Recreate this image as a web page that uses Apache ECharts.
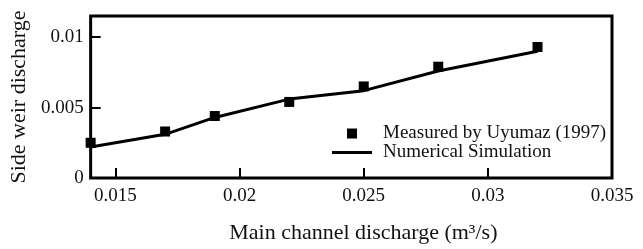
<!DOCTYPE html>
<html>
<head>
<meta charset="utf-8">
<script src="https://cdn.jsdelivr.net/npm/echarts@6/dist/echarts.min.js"></script>
<style>
    html, body { margin: 0; padding: 0; background: #fff; }
    #chart { width: 643px; height: 249px; }
</style>
</head>
<body>
<div id="chart"></div>
<script>
    // 实测数据 (Uyumaz 1997)
    var measuredX = [0.014, 0.017, 0.019, 0.022, 0.025, 0.028, 0.032];
    var measuredY = [0.0025, 0.0033, 0.0044, 0.0054, 0.0065, 0.0079, 0.0093];

    // 数值模拟
    var simX = [0.014, 0.017, 0.019, 0.022, 0.025, 0.028, 0.032];
    var simY = [0.0022, 0.0031, 0.0043, 0.0056, 0.0062, 0.0076, 0.0090];

    // 刻度
    var xTicks = [0.015, 0.02, 0.025, 0.03, 0.035];
    var yTicks = [0, 0.005, 0.01];

    function pairs(xs, ys) {
        var out = [];
        for (var i = 0; i < xs.length; i++) {
            out.push([xs[i], ys[i]]);
        }
        return out;
    }

    var font = '"Liberation Serif", "Times New Roman", serif';
    var myChart = echarts.init(document.getElementById('chart'));

    var option = {
        animation: false,
        textStyle: { fontFamily: font, color: '#111' },
        grid: {
            left: 88,
            right: 31,
            top: 16,
            bottom: 66,
            show: true,
            borderColor: '#000',
            borderWidth: 3,
            backgroundColor: 'transparent'
        },
        legend: {
            orient: 'vertical',
            left: 332,
            top: 124,
            padding: 0,
            itemWidth: 40,
            itemHeight: 10,
            itemGap: 0,
            textStyle: {
                fontFamily: font,
                fontSize: 19,
                color: '#111',
                lineHeight: 19,
                padding: [0, 0, 0, 6]
            },
            data: [
                { name: 'Measured by Uyumaz (1997)', icon: 'path://M0,0h10v10h-10z', itemStyle: { color: '#000', opacity: 1 } },
                { name: 'Numerical Simulation', icon: 'path://M0,0h40v3h-40z', itemStyle: { color: '#000' } }
            ]
        },
        xAxis: {
            type: 'value',
            min: 0.014,
            max: 0.035,
            name: 'Main channel discharge (m\u00b3/s)',
            nameLocation: 'middle',
            nameGap: 44,
            nameTextStyle: { fontFamily: font, fontSize: 22, color: '#111', padding: [0, 0, 0, 24] },
            splitLine: { show: false },
            axisLine: { show: false },
            axisTick: {
                inside: true,
                length: 10,
                lineStyle: { color: '#000', width: 2 },
                customValues: xTicks
            },
            axisLabel: {
                fontFamily: font,
                fontSize: 19,
                color: '#111',
                margin: 9,
                customValues: xTicks,
                formatter: function (value) {
                    return String(value);
                }
            }
        },
        yAxis: {
            type: 'value',
            min: 0,
            max: 0.0115,
            name: 'Side weir discharge',
            nameLocation: 'middle',
            nameGap: 52,
            nameTextStyle: { fontFamily: font, fontSize: 22, color: '#111' },
            splitLine: { show: false },
            axisLine: { show: false },
            axisTick: {
                inside: true,
                length: 10,
                lineStyle: { color: '#000', width: 2 },
                customValues: yTicks
            },
            axisLabel: {
                fontFamily: font,
                fontSize: 19,
                color: '#111',
                margin: 7,
                customValues: yTicks,
                formatter: function (value) {
                    return String(value);
                }
            }
        },
        series: [
            {
                name: 'Measured by Uyumaz (1997)',
                type: 'scatter',
                symbol: 'rect',
                symbolSize: 10,
                clip: false,
                z: 3,
                itemStyle: { color: '#000', opacity: 1 },
                data: pairs(measuredX, measuredY)
            },
            {
                name: 'Numerical Simulation',
                type: 'line',
                symbol: 'none',
                smooth: false,
                z: 2,
                lineStyle: { color: '#000', width: 3 },
                itemStyle: { color: '#000' },
                data: pairs(simX, simY)
            }
        ]
    };

    // 渲染图表
    myChart.setOption(option);
</script>
</body>
</html>
